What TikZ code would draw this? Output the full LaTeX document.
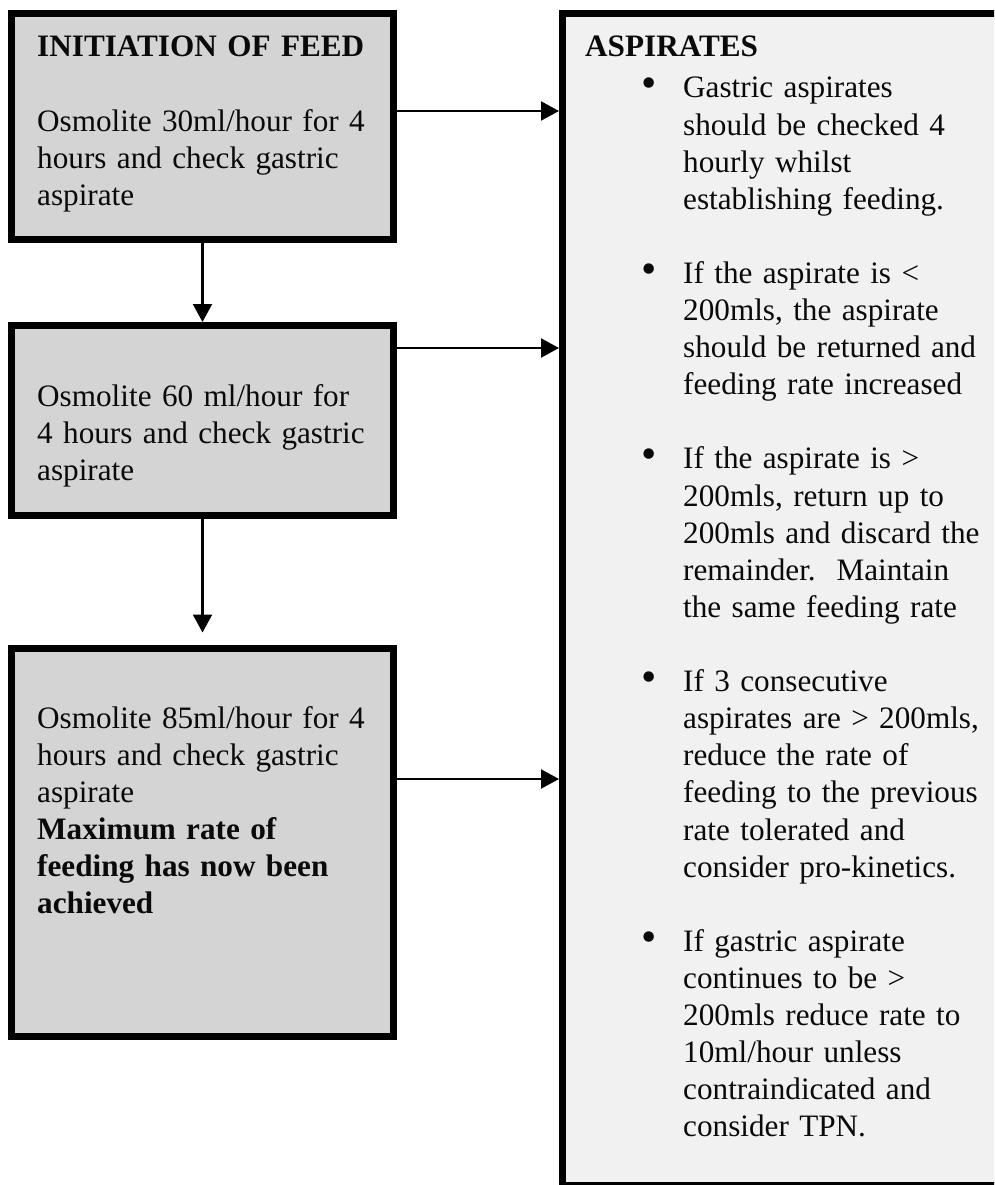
\documentclass[tikz,border=0pt]{standalone}
\usepackage{fontspec}
\setmainfont{Liberation Serif}
\usetikzlibrary{arrows.meta}
\definecolor{boxgray}{HTML}{D4D4D4}
\definecolor{aspfill}{HTML}{F1F1F1}
\definecolor{ink}{HTML}{0A0A0A}
\tikzset{
  feedbox/.style={draw=black, line width=7pt, fill=boxgray, inner sep=0pt, minimum width=382pt},
  aspbox/.style={draw=black, line width=7pt, fill=aspfill, inner sep=0pt, minimum width=537.5pt, minimum height=1172pt},
  txt/.style={anchor=base west, inner sep=0pt, align=left, text width=420pt, text=ink,
    font=\fontsize{31.2pt}{37.1pt}\selectfont},
  arr/.style={line width=2.2pt, -{Triangle[length=18pt,width=19pt]}}
}
\newcommand{\bul}{\leavevmode\llap{\scalebox{1.4}{\textbullet}\hspace{26pt}}}
\begin{document}
\begin{tikzpicture}[x=1pt,y=-1pt]
\useasboundingbox (0,0) rectangle (994,1185);
\begin{scope}
\clip (0,0) rectangle (994,1185);
% boxes
\node[feedbox, minimum height=226pt] (b1) at (202.5,126.5) {};
\node[feedbox, minimum height=190pt] (b2) at (202.5,420.5) {};
\node[feedbox, minimum height=388pt] (b3) at (202.5,842.5) {};
\node[aspbox] (asp) at (831.25,599.5) {};
% texts
\node[txt] (t1) at (37,57) {\textbf{INITIATION OF FEED}\\[37.1pt]
Osmolite 30ml/hour for 4\\
hours and check gastric\\
aspirate};
\node[txt] (t2) at (37,406) {Osmolite 60 ml/hour for\\
4 hours and check gastric\\
aspirate};
\node[txt] (t3) at (37,728) {Osmolite 85ml/hour for 4\\
hours and check gastric\\
aspirate\\
\textbf{Maximum rate of}\\
\textbf{feeding has now been}\\
\textbf{achieved}};
\node[txt] (th) at (585,57) {\textbf{ASPIRATES}};
\node[txt] (tb) at (683,98) {\bul Gastric aspirates\\
should be checked 4\\
hourly whilst\\
establishing feeding.\\[37.1pt]
\bul If the aspirate is <\\
200mls, the aspirate\\
should be returned and\\
feeding rate increased\\[37.1pt]
\bul If the aspirate is >\\
200mls, return up to\\
200mls and discard the\\
remainder.\ \ Maintain\\
the same feeding rate\\[37.1pt]
\bul If 3 consecutive\\
aspirates are > 200mls,\\
reduce the rate of\\
feeding to the previous\\
rate tolerated and\\
consider pro-kinetics.\\[37.1pt]
\bul If gastric aspirate\\
continues to be >\\
200mls reduce rate to\\
10ml/hour unless\\
contraindicated and\\
consider TPN.};
% connectors
\coordinate (a1) at (0,111);
\coordinate (a2) at (0,348);
\coordinate (a3) at (0,779);
\draw[arr] (b1.east |- a1) -- (asp.west |- a1);
\draw[arr] (b2.east |- a2) -- (asp.west |- a2);
\draw[arr] (b3.east |- a3) -- (asp.west |- a3);
\draw[arr] (b1.south) -- (b2.north);
\draw[arr] (b2.south) -- ([yshift=12.5pt]b3.north);
\end{scope}
\end{tikzpicture}
\end{document}
